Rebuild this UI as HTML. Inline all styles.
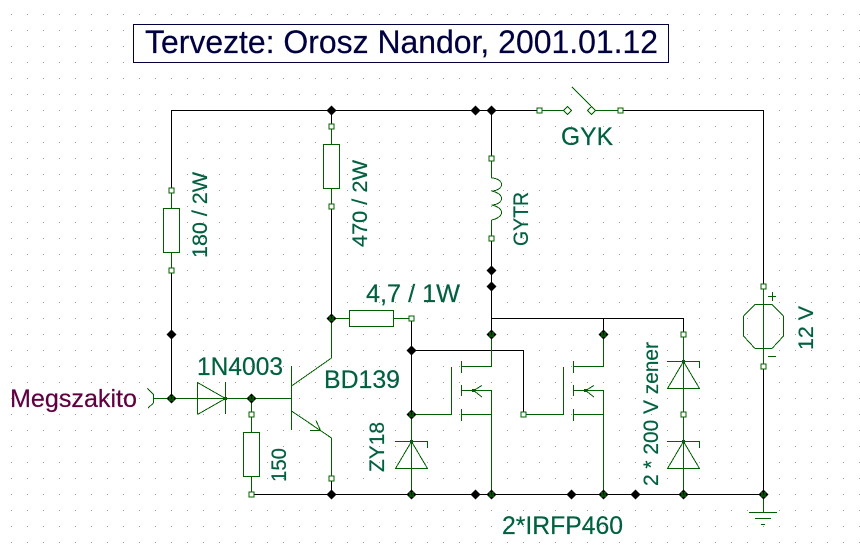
<!DOCTYPE html>
<html>
<head>
<meta charset="utf-8">
<style>
html,body{margin:0;padding:0;background:#fff;width:860px;height:550px;overflow:hidden}
svg{display:block}
text{font-family:"Liberation Sans",sans-serif;fill:#006040;stroke:#006040;stroke-width:0.2}
.g{stroke:#006000;stroke-width:1;fill:none}
.k{stroke:#000;stroke-width:1;fill:none}
.p{stroke:#006000;stroke-width:1;fill:#fff}
</style>
</head>
<body>
<svg width="860" height="550" viewBox="0 0 860 550" xmlns="http://www.w3.org/2000/svg">
<defs>
<pattern id="dots" x="11" y="14" width="16" height="16" patternUnits="userSpaceOnUse">
<rect x="0" y="0" width="1" height="1" fill="#a0a098"/>
</pattern>
<polygon id="jb" points="0.5,-4.5 5.5,0.5 0.5,5.5 -4.5,0.5" fill="#000"/>
<g id="jg"><polygon points="0.5,-4.5 5.5,0.5 0.5,5.5 -4.5,0.5" fill="#000"/><rect x="-2" y="-2" width="5" height="5" fill="#005000"/><rect x="0" y="-2" width="1" height="3" fill="#000"/></g>
<rect id="pin" x="-2.5" y="-2.5" width="5" height="5" fill="#fff" stroke="#006000"/>
</defs>
<rect width="860" height="550" fill="#fff"/>
<rect width="860" height="550" fill="url(#dots)"/>

<!-- title -->
<rect x="133.5" y="24.5" width="535" height="38" fill="#fff" stroke="#000040"/>
<text x="145" y="53" font-size="32" textLength="513" lengthAdjust="spacingAndGlyphs" style="fill:#000040;stroke:#000040">Tervezte: Orosz Nandor, 2001.01.12</text>

<!-- black wires -->
<g class="k" shape-rendering="crispEdges">
<path d="M171.5 190V110.5H539"/>
<path d="M620 110.5H763.5V286"/>
<path d="M171.5 270V398"/>
<path d="M331.5 110V126"/>
<path d="M331.5 206V318"/>
<path d="M491.5 110V158"/>
<path d="M491.5 238V334"/>
<path d="M491.5 318.5H683.5V334"/>
<path d="M603.5 318V334"/>
<path d="M411.5 318V414"/>
<path d="M411.5 350.5H523.5V414"/>
<path d="M251 494.5H763"/>
<path d="M331.5 478V494"/>
<path d="M763.5 366V494"/>
</g>

<!-- green wires / components -->
<g class="g" shape-rendering="crispEdges">
<!-- R 180 -->
<path d="M171.5 190V208M171.5 252V270"/>
<rect x="163.5" y="208.5" width="16" height="44" fill="#fff"/>
<!-- R 470 -->
<path d="M331.5 126V144M331.5 188V206"/>
<rect x="323.5" y="144.5" width="16" height="44" fill="#fff"/>
<!-- R 4.7 -->
<path d="M331 318.5H349M393 318.5H411"/>
<rect x="349.5" y="310.5" width="44" height="16" fill="#fff"/>
<!-- R 150 -->
<path d="M251.5 398V432M251.5 476V494"/>
<rect x="243.5" y="432.5" width="16" height="44" fill="#fff"/>
<!-- input wire -->
<path d="M154 398.5H291"/>
<path d="M153.5 394V403"/>
<!-- diode -->
<path d="M197.5 382V414M225.5 382V414"/>
<!-- transistor -->
<path d="M291.5 366V430"/>
<path d="M331.5 318V358M331.5 438V478"/>
<!-- GYTR leads -->
<path d="M491.5 158V178M491.5 220V238"/>
<!-- switch -->
<path d="M539 110.5H563M595 110.5H620"/>
<!-- battery -->
<path d="M763.5 286V366"/>
<path d="M768 296.5H776M772.5 292V301M768 356.5H776"/>
<!-- mosfet 1 -->
<path d="M411 414.5H451.5V367"/>
<path d="M461.5 361V373M461.5 385V396M461.5 409V421"/>
<path d="M461 366.5H491.5V334M461 390.5H491.5V494M461 414.5H491"/>
<!-- mosfet 2 -->
<path d="M523 414.5H563.5V367"/>
<path d="M573.5 361V373M573.5 385V396M573.5 409V421"/>
<path d="M573 366.5H603.5V334M573 390.5H603.5V494M573 414.5H603"/>
<!-- zener ZY18 -->
<path d="M411.5 414V494"/>
<path d="M395 441.5H427.5V448M395 468.5H428"/>
<!-- zeners 2x -->
<path d="M683.5 334V494"/>
<path d="M667 361.5H699.5V368M667 388.5H700"/>
<path d="M667 441.5H699.5V448M667 468.5H700"/>
<!-- ground -->
<path d="M763.5 494V512"/>
<rect x="749" y="512" width="28" height="1" fill="#006000" stroke="none"/>
<rect x="755" y="518" width="16" height="1" fill="#006000" stroke="none"/>
<rect x="761" y="524" width="4" height="1" fill="#006000" stroke="none"/>
<!-- battery caps -->
<path d="M755 304.5H772M755 348.5H772M743.5 316V336M783.5 316V336"/>
</g>

<!-- diagonal parts -->
<g class="g" shape-rendering="crispEdges">
<path d="M147.5 388.5L153.5 394.5M153.5 403L148 408"/>
<path d="M197.5 382.5L225.5 398.5L197.5 414.5"/>
<path d="M291.5 386L331.5 358M291.5 411L331.5 438"/>
<path d="M310 430.5H320.5L316 420.5"/>
<path d="M473.5 390.5L482 385.5M473.5 390.5L482 397"/>
<path d="M585.5 390.5L594 385.5M585.5 390.5L594 397"/>
<path d="M411.5 441.5L395.5 468.5M411.5 441.5L427.5 468.5"/>
<path d="M683.5 361.5L667.5 388.5M683.5 361.5L699.5 388.5"/>
<path d="M683.5 441.5L667.5 468.5M683.5 441.5L699.5 468.5"/>
<path d="M572 87L591 106"/>
<path d="M755 304.5L743.5 316M772 304.5L783.5 316M743.5 336L755 348.5M783.5 336L772 348.5"/>
<path d="M491.5 178C497 178 501.5 181 501.5 184.500C501.5 188 497 191 491.500 191C497 192 501.5 195 501.500 198.500C501.500 202 497 205 491.500 205C497 206 501.500 209 501.500 212.500C501.500 216 497 219 491.500 220"/>
<polygon points="567.5,106.5 571.5,110.5 567.5,114.5 563.5,110.5" fill="#fff"/>
<polygon points="591.5,106.5 595.5,110.5 591.5,114.5 587.5,110.5" fill="#fff"/>
</g>

<!-- small green dots on apexes -->
<g fill="#006000">
<rect x="224" y="397" width="3" height="3"/>
<rect x="410" y="440" width="3" height="3"/>
<rect x="682" y="360" width="3" height="3"/>
<rect x="682" y="440" width="3" height="3"/>
<rect x="472" y="389" width="3" height="3"/>
<rect x="584" y="389" width="3" height="3"/>
</g>

<!-- pins -->
<g shape-rendering="crispEdges">
<use href="#pin" x="171.5" y="190.5"/>
<use href="#pin" x="171.5" y="270.5"/>
<use href="#pin" x="331.5" y="126.5"/>
<use href="#pin" x="331.5" y="206.5"/>
<use href="#pin" x="411.5" y="318.5"/>
<use href="#pin" x="251.5" y="414.5"/>
<use href="#pin" x="251.5" y="494.5"/>
<use href="#pin" x="331.5" y="478.5"/>
<use href="#pin" x="491.5" y="158.5"/>
<use href="#pin" x="491.5" y="238.5"/>
<use href="#pin" x="539.5" y="110.5"/>
<use href="#pin" x="620.5" y="110.5"/>
<use href="#pin" x="763.5" y="286.5"/>
<use href="#pin" x="763.5" y="366.5"/>
<use href="#pin" x="523.5" y="414.5"/>
<use href="#pin" x="683.5" y="334.5"/>
<use href="#pin" x="683.5" y="414.5"/>
</g>

<!-- junctions -->
<use href="#jb" x="171" y="334"/>
<use href="#jb" x="331" y="110"/>
<use href="#jb" x="475" y="110"/>
<use href="#jb" x="491" y="110"/>
<use href="#jb" x="491" y="270"/>
<use href="#jb" x="491" y="286"/>
<use href="#jb" x="411" y="350"/>
<use href="#jb" x="331" y="494"/>
<use href="#jb" x="475" y="494"/>
<use href="#jb" x="571" y="494"/>
<use href="#jb" x="635" y="494"/>
<use href="#jg" x="171" y="398"/>
<use href="#jg" x="251" y="398"/>
<use href="#jg" x="331" y="318"/>
<use href="#jg" x="411" y="414"/>
<use href="#jg" x="411" y="494"/>
<use href="#jg" x="491" y="334"/>
<use href="#jg" x="603" y="334"/>
<use href="#jg" x="491" y="494"/>
<use href="#jg" x="603" y="494"/>
<use href="#jg" x="683" y="494"/>
<use href="#jg" x="763" y="494"/>

<!-- labels -->
<text x="561" y="145" font-size="25" textLength="52" lengthAdjust="spacingAndGlyphs">GYK</text>
<text x="197" y="375" font-size="25" textLength="86" lengthAdjust="spacingAndGlyphs">1N4003</text>
<text x="324" y="388" font-size="25" textLength="76" lengthAdjust="spacingAndGlyphs">BD139</text>
<text x="366" y="302" font-size="25" textLength="94" lengthAdjust="spacingAndGlyphs">4,7 / 1W</text>
<text x="502" y="534" font-size="25" textLength="121" lengthAdjust="spacingAndGlyphs">2*IRFP460</text>
<text x="10" y="407" font-size="25" textLength="127" lengthAdjust="spacingAndGlyphs" style="fill:#600040;stroke:#600040">Megszakito</text>

<text transform="translate(207 258) rotate(-90)" font-size="21" textLength="86" lengthAdjust="spacingAndGlyphs">180 / 2W</text>
<text transform="translate(367 247) rotate(-90)" font-size="21" textLength="87" lengthAdjust="spacingAndGlyphs">470 / 2W</text>
<text transform="translate(528 246) rotate(-90)" font-size="21" textLength="54" lengthAdjust="spacingAndGlyphs">GYTR</text>
<text transform="translate(813 350) rotate(-90)" font-size="21" textLength="44" lengthAdjust="spacingAndGlyphs">12 V</text>
<text transform="translate(658 486) rotate(-90)" font-size="21" textLength="144" lengthAdjust="spacingAndGlyphs">2 * 200 V zener</text>
<text transform="translate(384 472) rotate(-90)" font-size="21" textLength="50" lengthAdjust="spacingAndGlyphs">ZY18</text>
<text transform="translate(286 482) rotate(-90)" font-size="21" textLength="34" lengthAdjust="spacingAndGlyphs">150</text>
</svg>
</body>
</html>
